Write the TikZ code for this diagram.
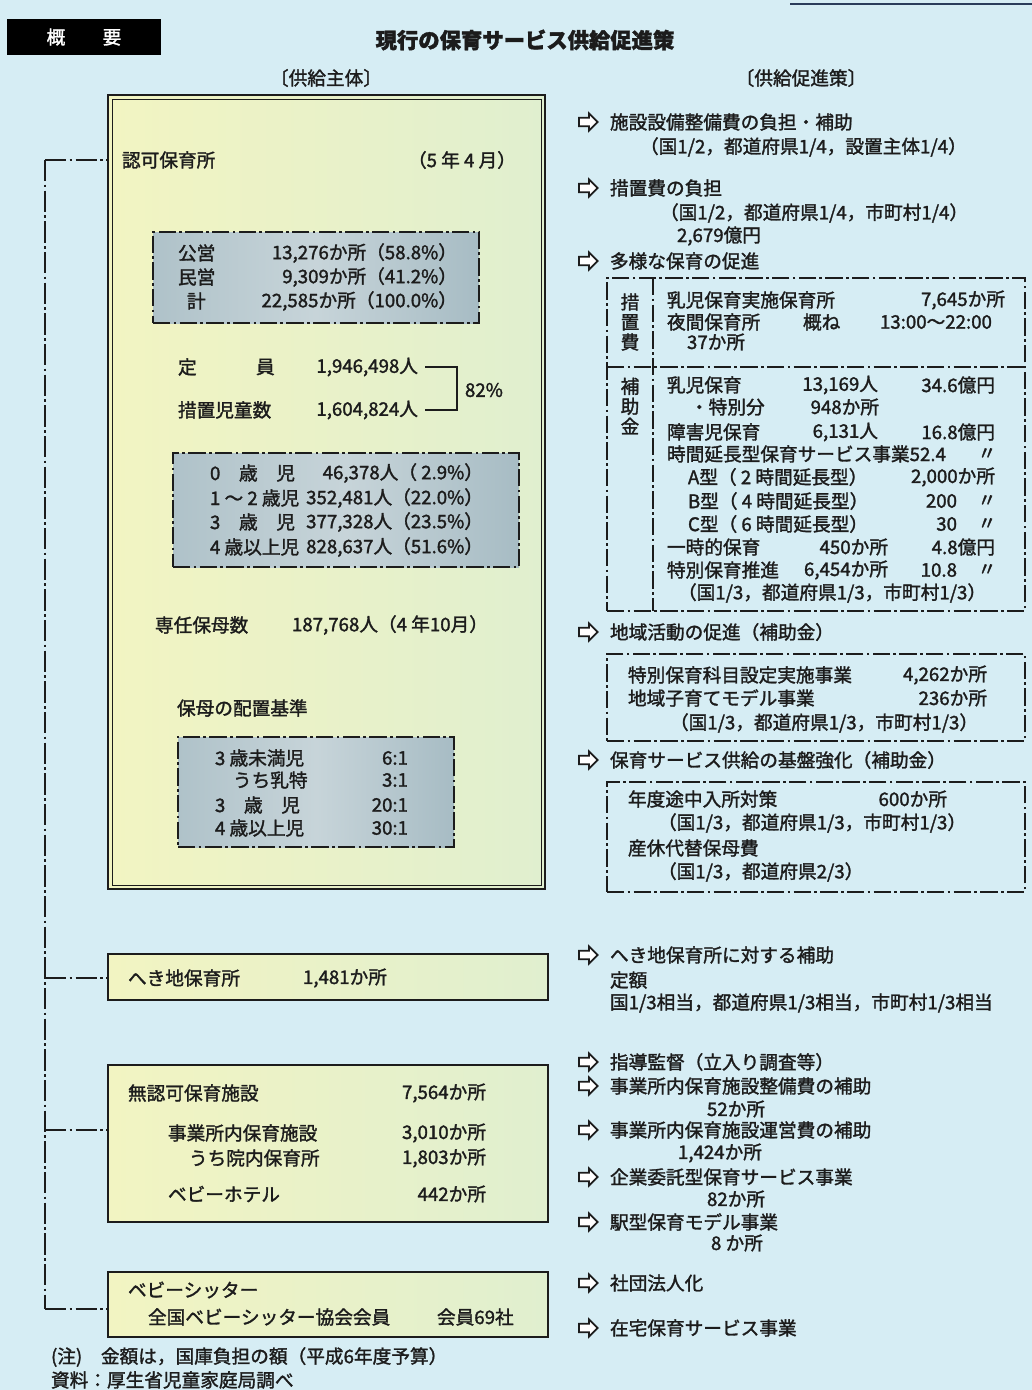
\documentclass[tikz,border=0pt]{standalone}
\usepackage{fontspec}
\setmainfont{Noto Sans CJK JP}[RawFeature={embolden=1.6}]
\usetikzlibrary{fit,calc,shapes.arrows}
\definecolor{bg}{HTML}{D6EDF4}
\definecolor{ink}{HTML}{1C1C1C}
\definecolor{mainL}{HTML}{F2F4C2}
\definecolor{mainR}{HTML}{E0EFCF}
\definecolor{grayL}{HTML}{AFC2C9}
\definecolor{grayR}{HTML}{A7BCC4}
\definecolor{topline}{HTML}{2A3C5A}
\tikzset{
  every node/.style={inner sep=0pt, outer sep=0pt},
  tx/.style={anchor=west, font=\fontsize{14}{17}\selectfont, text=ink},
  tr/.style={anchor=east, font=\fontsize{14}{17}\selectfont, text=ink},
  tc/.style={font=\fontsize{14}{17}\selectfont, text=ink},
  sarr/.style={single arrow, draw=ink, fill=white, line width=1.3pt, inner sep=2.6pt,
    single arrow head extend=3.2pt, minimum height=14pt, anchor=west},
  dd/.style={draw=ink, line width=0.9pt, dash pattern=on 13pt off 2.5pt on 2pt off 2.5pt},
  conn/.style={draw=ink, line width=0.8pt, dash pattern=on 16pt off 2.5pt on 2pt off 2.5pt},
  graybox/.style={dd, left color=grayL, right color=grayR, middle color=grayL!70!white},
  lbox/.style={draw=ink, line width=1.3pt, left color=mainL, right color=mainR},
}
\begin{document}
\begin{tikzpicture}[x=0.75pt,y=-0.75pt]
\useasboundingbox (0,0) rectangle (1032,1390);
\fill[bg] (0,0) rectangle (1032,1390);
\draw[topline, line width=1.5pt] (790,4) -- (1032,4);

% header
\node[fit={(7,19) (161,55)}, fill=black] (gaiyo) {};
\node[tc, text=white] (gaiyot) at (gaiyo.center) {概　　要};
\node[font=\bfseries\fontsize{16}{18}\selectfont, text=ink] (title) at (525,40) {現行の保育サービス供給促進策};
\node[tc] (hd1) at (326,78) {〔供給主体〕};
\node[tc] (hd2) at (801,78) {〔供給促進策〕};

% main box
\node[fit={(108,95) (545,889)}, draw=ink, line width=1.2pt, left color=mainL, right color=mainR] (ninka) {};
\draw[ink, line width=0.6pt] ([shift={(4,4)}]ninka.north west) rectangle ([shift={(-4,-4)}]ninka.south east);

\node[tx] (n1) at (122,160) {認可保育所};
\node[tx] (n2) at (408,160) {（5 年 4 月）};

\node[fit={(153,232) (479,323)}, graybox] (g1) {};
\node[tx] (a1) at (178,253) {公営};
\node[tr] (a1r) at (457,253) {13,276か所（58.8\%）};
\node[tx] (a2) at (178,277) {民営};
\node[tr] (a2r) at (457,277) {9,309か所（41.2\%）};
\node[tx] (a3) at (187,301) {計};
\node[tr] (a3r) at (457,301) {22,585か所（100.0\%）};

\node[tx] (te1) at (178,367) {定};
\node[tx] (te2) at (256,367) {員};
\node[tr] (tn1) at (418,367) {1,946,498人};
\node[tx] (t2) at (178,410) {措置児童数};
\node[tr] (tn2) at (418,410) {1,604,824人};
\draw[ink, line width=0.9pt] ($(tn1.east)+(7,0)$) -- ++(32,0) |- ($(tn2.east)+(7,0)$);
\node[tx] (p82) at (465,390) {82\%};

\node[fit={(173,453) (519,567)}, graybox] (g2) {};
\node[tx] (b1) at (210,473) {0　歳　児};
\node[tr] (b1r) at (483,473) {46,378人（ 2.9\%）};
\node[tx] (b2) at (210,498) {1 ～ 2 歳児};
\node[tr] (b2r) at (483,498) {352,481人（22.0\%）};
\node[tx] (b3) at (210,522) {3　歳　児};
\node[tr] (b3r) at (483,522) {377,328人（23.5\%）};
\node[tx] (b4) at (210,547) {4 歳以上児};
\node[tr] (b4r) at (483,547) {828,637人（51.6\%）};

\node[tx] (s1) at (155,625) {専任保母数};
\node[tx] (s1r) at (292,625) {187,768人（4 年10月）};
\node[tx] (s2) at (177,708) {保母の配置基準};

\node[fit={(178,737) (454,847)}, graybox] (g3) {};
\node[tx] (c1) at (215,758) {3 歳未満児};
\node[tr] (c1r) at (408,758) {6:1};
\node[tx] (c2) at (233,780) {うち乳特};
\node[tr] (c2r) at (408,780) {3:1};
\node[tx] (c3) at (215,805) {3　歳　児};
\node[tr] (c3r) at (408,805) {20:1};
\node[tx] (c4) at (215,828) {4 歳以上児};
\node[tr] (c4r) at (408,828) {30:1};

% lower boxes
\node[fit={(108,954) (548,1000)}, lbox] (heki) {};
\node[tx] (h1) at (128,978) {へき地保育所};
\node[tx] (h2) at (303,978) {1,481か所};

\node[fit={(108,1065) (548,1222)}, lbox] (muninka) {};
\node[tx] (m1) at (128,1093) {無認可保育施設};
\node[tr] (m1r) at (486,1093) {7,564か所};
\node[tx] (m2) at (168,1133) {事業所内保育施設};
\node[tr] (m2r) at (486,1133) {3,010か所};
\node[tx] (m3) at (189,1158) {うち院内保育所};
\node[tr] (m3r) at (486,1158) {1,803か所};
\node[tx] (m4) at (168,1194) {ベビーホテル};
\node[tr] (m4r) at (486,1194) {442か所};

\node[fit={(108,1272) (548,1337)}, lbox] (sitter) {};
\node[tx] (bs1) at (128,1290) {ベビーシッター};
\node[tx] (bs2) at (148,1317) {全国ベビーシッター協会会員};
\node[tx] (bs2r) at (437,1317) {会員69社};

\node[tx] (nt1) at (51,1357) {(注)　金額は，国庫負担の額（平成6年度予算）};
\node[tx] (nt2) at (51,1380) {資料：厚生省児童家庭局調べ};

% spine
\coordinate (sp1) at (45,160);
\coordinate (sp2) at (45,978);
\coordinate (sp3) at (45,1130);
\coordinate (sp4) at (45,1309);
\draw[conn] (sp1) -- (sp4);
\draw[conn] (sp1) -- (sp1 -| ninka.west);
\draw[conn] (sp2) -- (sp2 -| heki.west);
\draw[conn] (sp3) -- (sp3 -| muninka.west);
\draw[conn] (sp4) -- (sp4 -| sitter.west);

% right column
\node[sarr] (ar1) at (579,122) {};
\node[tx] (ra1) at (610,122) {施設設備整備費の負担・補助};
\node[tx] (rb1) at (640,147) {（国1/2，都道府県1/4，設置主体1/4）};
\node[sarr] (ar2) at (579,188) {};
\node[tx] (ra2) at (610,188) {措置費の負担};
\node[tx] (rb2) at (660,213) {（国1/2，都道府県1/4，市町村1/4）};
\node[tx] (rb3) at (677,236) {2,679億円};
\node[sarr] (ar3) at (579,261) {};
\node[tx] (ra3) at (610,261) {多様な保育の促進};

\node[fit={(607,278) (1025,611)}, dd] (tayo) {};
\coordinate (dv1) at (653,278);
\coordinate (dv2) at (653,611);
\coordinate (hz) at (0,367);
\draw[dd] (dv1) -- (dv2);
\draw[dd] (tayo.west |- hz) -- (tayo.east |- hz);
\node[tc, align=center, font=\fontsize{14}{15}\selectfont] (k1) at (630,322) {措\\置\\費};
\node[tc, align=center, font=\fontsize{14}{15}\selectfont] (k2) at (630,406) {補\\助\\金};

\node[tx] (d1) at (667,300) {乳児保育実施保育所};
\node[tr] (d1r) at (1005,300) {7,645か所};
\node[tx] (d2) at (667,322) {夜間保育所};
\node[tx] (d2b) at (803,322) {概ね};
\node[tx] (d2c) at (880,322) {13:00～22:00};
\node[tx] (d3) at (687,342) {37か所};

\node[tx] (e1) at (667,385) {乳児保育};
\node[tr] (e1b) at (878,385) {13,169人};
\node[tr] (e1c) at (995,385) {34.6億円};
\node[tx] (e2) at (690,407) {・特別分};
\node[tr] (e2b) at (879,407) {948か所};
\node[tx] (e3) at (667,432) {障害児保育};
\node[tr] (e3b) at (878,432) {6,131人};
\node[tr] (e3c) at (995,432) {16.8億円};
\node[tx] (e4) at (667,454) {時間延長型保育サービス事業52.4};
\node[tc] (e4c) at (987,454) {〃};
\node[tx] (e5) at (688,477) {A型（ 2 時間延長型）};
\node[tr] (e5c) at (995,477) {2,000か所};
\node[tx] (e6) at (688,501) {B型（ 4 時間延長型）};
\node[tr] (e6b) at (957,501) {200};
\node[tc] (e6c) at (987,501) {〃};
\node[tx] (e7) at (688,524) {C型（ 6 時間延長型）};
\node[tr] (e7b) at (957,524) {30};
\node[tc] (e7c) at (987,524) {〃};
\node[tx] (e8) at (667,547) {一時的保育};
\node[tr] (e8b) at (888,547) {450か所};
\node[tr] (e8c) at (995,547) {4.8億円};
\node[tx] (e9) at (667,570) {特別保育推進};
\node[tr] (e9b) at (888,570) {6,454か所};
\node[tr] (e9c) at (957,570) {10.8};
\node[tc] (e9d) at (987,570) {〃};
\node[tx] (e10) at (678,593) {（国1/3，都道府県1/3，市町村1/3）};

\node[sarr] (ar4) at (579,632) {};
\node[tx] (ra4) at (610,632) {地域活動の促進（補助金）};
\node[fit={(607,654) (1025,741)}, dd] (chiiki) {};
\node[tx] (f1) at (628,675) {特別保育科目設定実施事業};
\node[tr] (f1r) at (987,675) {4,262か所};
\node[tx] (f2) at (628,698) {地域子育てモデル事業};
\node[tr] (f2r) at (987,698) {236か所};
\node[tx] (f3) at (670,723) {（国1/3，都道府県1/3，市町村1/3）};

\node[sarr] (ar5) at (579,760) {};
\node[tx] (ra5) at (610,760) {保育サービス供給の基盤強化（補助金）};
\node[fit={(607,782) (1025,892)}, dd] (kiban) {};
\node[tx] (q1) at (628,799) {年度途中入所対策};
\node[tr] (q1r) at (947,799) {600か所};
\node[tx] (q2) at (658,823) {（国1/3，都道府県1/3，市町村1/3）};
\node[tx] (q3) at (628,848) {産休代替保母費};
\node[tx] (q4) at (658,872) {（国1/3，都道府県2/3）};

\node[sarr] (ar6) at (579,955) {};
\node[tx] (ra6) at (610,955) {へき地保育所に対する補助};
\node[tx] (u1) at (610,980) {定額};
\node[tx] (u2) at (610,1003) {国1/3相当，都道府県1/3相当，市町村1/3相当};

\node[sarr] (ar7) at (579,1062) {};
\node[tx] (ra7) at (610,1062) {指導監督（立入り調査等）};
\node[sarr] (ar8) at (579,1086) {};
\node[tx] (ra8) at (610,1086) {事業所内保育施設整備費の補助};
\node[tx] (v1) at (707,1109) {52か所};
\node[sarr] (ar9) at (579,1130) {};
\node[tx] (ra9) at (610,1130) {事業所内保育施設運営費の補助};
\node[tx] (v2) at (678,1153) {1,424か所};
\node[sarr] (ar10) at (579,1177) {};
\node[tx] (ra10) at (610,1177) {企業委託型保育サービス事業};
\node[tx] (v3) at (707,1199) {82か所};
\node[sarr] (ar11) at (579,1222) {};
\node[tx] (ra11) at (610,1222) {駅型保育モデル事業};
\node[tx] (v4) at (711,1243) {8 か所};
\node[sarr] (ar12) at (579,1283) {};
\node[tx] (ra12) at (610,1283) {社団法人化};
\node[sarr] (ar13) at (579,1328) {};
\node[tx] (ra13) at (610,1328) {在宅保育サービス事業};
\end{tikzpicture}
\end{document}
